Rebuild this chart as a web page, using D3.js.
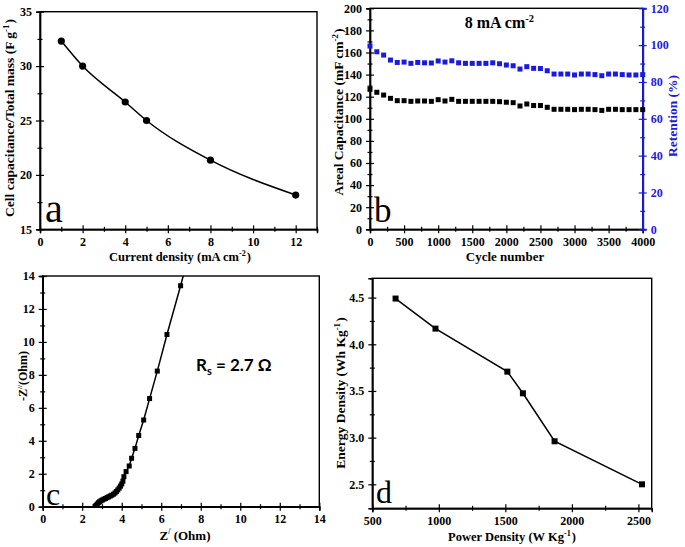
<!DOCTYPE html>
<html><head><meta charset="utf-8">
<script src="https://cdn.jsdelivr.net/npm/d3@7"></script>
<style>
body{margin:0;background:#fff;}
svg{display:block;}
text{font-family:"Liberation Serif","Times New Roman",serif;}
</style></head>
<body>
<svg id="c" width="685" height="547"></svg>
<script>
// ---------- DATA ----------
const aCurrent = [1, 2, 4, 5, 8, 12];
const aCellCap = [32.3, 30.0, 26.7, 25.0, 21.35, 18.15];

const bCycles = [0,100,200,300,400,500,600,700,800,900,1000,1100,1200,1300,1400,1500,1600,1700,1800,1900,2000,
  2100,2200,2300,2400,2500,2600,2700,2800,2900,3000,3100,3200,3300,3400,3500,3600,3700,3800,3900,4000];
const bAreal = [126.7,124,121.5,118.5,116.4,116.4,115.8,116.1,116.1,115.8,117.3,116.1,117.6,115.8,115.8,115.8,115.8,115.8,115.8,115.5,115,
  114.6,111.6,113.4,112,112,110.4,108.6,108.6,108.6,108.3,108.6,108.6,108.3,107.6,108.6,108.6,108.3,108.3,108.3,108.3];
const bRetention = [99.5,96.4,94.6,91.9,90.6,90.8,90.1,90.6,90.4,90.3,91.4,90.8,91.5,90.4,90.1,90.1,90.1,90.1,90.4,89.9,89.2,
  88.8,87.0,88.3,87.4,87.3,86.1,84.3,84.3,84.3,83.8,84.3,84.3,84.0,83.4,84.3,84.3,84.0,83.8,83.8,84.0];

const cZre = [2.65,2.7,2.76,2.82,2.88,2.95,3.02,3.1,3.18,3.26,3.34,3.42,3.5,3.58,3.66,3.73,3.8,3.87,3.94,4.0,4.06,4.11,4.22,4.38,4.5,4.67,4.86,5.11,5.41,5.8,6.29,6.98,7.6];
const cZim = [0.02,0.08,0.16,0.24,0.3,0.36,0.41,0.46,0.5,0.55,0.6,0.65,0.7,0.76,0.83,0.92,1.02,1.13,1.25,1.38,1.55,1.82,2.13,2.47,2.94,3.54,4.32,5.26,6.56,8.23,10.45,13.41,16.2];

const dPower = [675, 975, 1515, 1632, 1870, 2527];
const dEnergy = [4.49, 4.168, 3.707, 3.475, 2.961, 2.5];

// ---------- DRAW ----------
const svg = d3.select("#c");
const BLUE = "#1a1ae6";
const TF = 12; // tick font

function styleAxis(g, color) {
  g.selectAll("path.domain").attr("stroke", color).attr("stroke-width", 1.4);
  g.selectAll(".tick line").attr("stroke", color).attr("stroke-width", 1.2);
  g.selectAll(".tick text").attr("fill", color).style("font-size", TF + "px").style("font-weight", "bold")
    .style("font-family", "'Liberation Serif',serif");
}

function panel(o) {
  const x = d3.scaleLinear().domain(o.xd).range([o.l, o.r]);
  const y = d3.scaleLinear().domain(o.yd).range([o.b, o.t]);
  const g = svg.append("g");
  g.append("rect").attr("x", o.l).attr("y", o.t).attr("width", o.r - o.l).attr("height", o.b - o.t)
    .attr("fill", "none").attr("stroke", "#000").attr("stroke-width", 1.4);
  const gxm = g.append("g").attr("transform", `translate(0,${o.b})`)
    .call(d3.axisBottom(x).tickValues(o.xminor).tickSize(2.5).tickFormat(""));
  gxm.selectAll(".tick line").attr("y1", -2.5);
  styleAxis(gxm, "#000");
  const gx = g.append("g").attr("transform", `translate(0,${o.b})`)
    .call(d3.axisBottom(x).tickValues(o.xticks).tickSize(4).tickPadding(4).tickFormat(d3.format("d")));
  gx.selectAll(".tick line").attr("y1", -4);
  styleAxis(gx, "#000");
  const gym = g.append("g").attr("transform", `translate(${o.l},0)`)
    .call(d3.axisLeft(y).tickValues(o.yminor).tickSize(2.5).tickFormat(""));
  gym.selectAll(".tick line").attr("x1", 2.5);
  styleAxis(gym, "#000");
  const gy = g.append("g").attr("transform", `translate(${o.l},0)`)
    .call(d3.axisLeft(y).tickValues(o.yticks).tickSize(4).tickPadding(4).tickFormat(o.yfmt || d3.format("d")));
  gy.selectAll(".tick line").attr("x1", 4);
  styleAxis(gy, "#000");
  return {x, y, g};
}

function title(g, txt, x, y, rot, size, color, supDy) {
  const t = g.append("text").attr("transform", `translate(${x},${y}) rotate(${rot})`)
    .attr("text-anchor", "middle").style("font-size", size + "px").style("font-weight", "bold")
    .attr("fill", color || "#000");
  txt.forEach((s) => {
    if (s[0]) t.append("tspan").text(s[0]);
    if (s[1]) {
      t.append("tspan").attr("dy", supDy || -5).style("font-size", (size * 0.65) + "px").text(s[1]);
      t.append("tspan").attr("dy", -(supDy || -5)).text("\u200A");
    }
  });
  return t;
}

function bigLabel(txt, x, y, size) {
  svg.append("text").attr("x", x).attr("y", y).style("font-size", size + "px").text(txt);
}

// ---- Panel a ----
{
  const p = panel({l: 40, r: 317, t: 11.7, b: 229.3, xd: [0, 13], yd: [15, 35],
    xticks: [0,2,4,6,8,10,12], xminor: [1,3,5,7,9,11,13], yticks: [15,20,25,30,35], yminor: [17.5,22.5,27.5,32.5]});
  const pts = aCurrent.map((v, i) => [v, aCellCap[i]]);
  p.g.append("path").datum(pts).attr("fill", "none").attr("stroke", "#000").attr("stroke-width", 1.5)
    .attr("d", d3.line().x(d => p.x(d[0])).y(d => p.y(d[1])).curve(d3.curveMonotoneX));
  p.g.selectAll("circle.a").data(pts).join("circle").attr("cx", d => p.x(d[0])).attr("cy", d => p.y(d[1]))
    .attr("r", 3.6).attr("fill", "#000");
  title(p.g, [["Current density (mA cm"], ["", "-2"], [")"]], 180, 260.5, 0, 12.5);
  title(p.g, [["Cell capacitance/Total mass (F g"], ["", "-1"], [")"]], 14, 118, -90, 13.5);
  bigLabel("a", 45, 222, 40);
}

// ---- Panel b ----
{
  const o = {l: 370, r: 642.7, t: 8.3, b: 229.3, xd: [0, 4000], yd: [0, 200],
    xticks: [0,500,1000,1500,2000,2500,3000,3500,4000], xminor: [250,750,1250,1750,2250,2750,3250,3750],
    yticks: [0,20,40,60,80,100,120,140,160,180,200], yminor: [10,30,50,70,90,110,130,150,170,190]};
  const p = panel(o);
  const y2 = d3.scaleLinear().domain([0, 120]).range([o.b, o.t]);
  const gr = p.g.append("g").attr("transform", `translate(${o.r},0)`)
    .call(d3.axisRight(y2).tickValues([10,30,50,70,90,110]).tickSize(2.5).tickFormat(""));
  gr.selectAll(".tick line").attr("x1", -2.5);
  styleAxis(gr, BLUE);
  const gr2 = p.g.append("g").attr("transform", `translate(${o.r},0)`)
    .call(d3.axisRight(y2).tickValues([0,20,40,60,80,100,120]).tickSize(4).tickPadding(4));
  gr2.selectAll(".tick line").attr("x1", -4);
  styleAxis(gr2, BLUE);
  gr2.selectAll("path.domain").attr("stroke-width", 2);
  const s = 5;
  p.g.selectAll("rect.bk").data(bCycles).join("rect").attr("x", (d) => p.x(d) - s / 2)
    .attr("y", (d, i) => p.y(bAreal[i]) - s / 2).attr("width", s).attr("height", s).attr("fill", "#000");
  p.g.selectAll("rect.bl").data(bCycles).join("rect").attr("x", (d) => p.x(d) - s / 2)
    .attr("y", (d, i) => y2(bRetention[i]) - s / 2).attr("width", s).attr("height", s).attr("fill", BLUE);
  title(p.g, [["Cycle number"]], 505, 261, 0, 13);
  title(p.g, [["Areal Capacitance (mF cm"], ["", "-2"], [")"]], 343, 112, -90, 13.5);
  title(p.g, [["Retention (%)"]], 677, 116, -90, 13.5, BLUE);
  title(p.g, [["8 mA cm"], ["", "-2"]], 500, 28, 0, 16, "#000", -6);
  bigLabel("b", 374, 222, 35);
}

// ---- Panel c ----
{
  const p = panel({l: 42.7, r: 319.3, t: 276, b: 506.7, xd: [0, 14], yd: [0, 14],
    xticks: [0,2,4,6,8,10,12,14], xminor: [1,3,5,7,9,11,13], yticks: [0,2,4,6,8,10,12,14], yminor: [1,3,5,7,9,11,13]});
  svg.append("clipPath").attr("id", "clipc").append("rect").attr("x", 42.7).attr("y", 276)
    .attr("width", 319.3 - 42.7).attr("height", 506.7 - 276);
  const pts = cZre.map((v, i) => [v, cZim[i]]);
  const gc = p.g.append("g").attr("clip-path", "url(#clipc)");
  gc.append("path").datum(pts).attr("fill", "none").attr("stroke", "#000").attr("stroke-width", 1.5)
    .attr("d", d3.line().x(d => p.x(d[0])).y(d => p.y(d[1])));
  const s = 5;
  gc.selectAll("rect.c").data(pts).join("rect").attr("x", d => p.x(d[0]) - s / 2).attr("y", d => p.y(d[1]) - s / 2)
    .attr("width", s).attr("height", s).attr("fill", "#000");
  const tx = p.g.append("text").attr("x", 185).attr("y", 540).attr("text-anchor", "middle")
    .style("font-size", "13px").style("font-weight", "bold");
  tx.append("tspan").text("Z");
  tx.append("tspan").attr("dy", -6).style("font-size", "8px").text("/");
  tx.append("tspan").attr("dy", 6).text(" (Ohm)");
  const ty = p.g.append("text").attr("transform", "translate(27,376) rotate(-90)").attr("text-anchor", "middle")
    .style("font-size", "12px").style("font-weight", "bold");
  ty.append("tspan").text("-Z");
  ty.append("tspan").attr("dy", -5).style("font-size", "7px").text("//");
  ty.append("tspan").attr("dy", 5).text("(Ohm)");
  const rs = p.g.append("text").attr("x", 196).attr("y", 371)
    .style("font-family", "Lato, 'Open Sans', sans-serif").style("font-size", "17px").style("font-weight", "bold");
  rs.append("tspan").text("R");
  rs.append("tspan").attr("dy", 4).style("font-size", "11px").text("s");
  rs.append("tspan").attr("dy", -4).text(" = 2.7 \u03A9");
  bigLabel("c", 46, 505, 32);
}

// ---- Panel d ----
{
  const p = panel({l: 372.3, r: 651.7, t: 278.3, b: 508.3, xd: [500, 2600], yd: [2.243, 4.707],
    xticks: [500,1000,1500,2000,2500], xminor: [750,1250,1750,2250],
    yticks: [2.5,3.0,3.5,4.0,4.5], yminor: [2.75,3.25,3.75,4.25], yfmt: d3.format(".1f")});
  const pts = dPower.map((v, i) => [v, dEnergy[i]]);
  p.g.append("path").datum(pts).attr("fill", "none").attr("stroke", "#000").attr("stroke-width", 1.5)
    .attr("d", d3.line().x(d => p.x(d[0])).y(d => p.y(d[1])));
  const s = 6;
  p.g.selectAll("rect.d").data(pts).join("rect").attr("x", d => p.x(d[0]) - s / 2).attr("y", d => p.y(d[1]) - s / 2)
    .attr("width", s).attr("height", s).attr("fill", "#000");
  title(p.g, [["Power Density (W Kg"], ["", "-1"], [")"]], 512, 540.5, 0, 12.5);
  title(p.g, [["Energy Density (Wh Kg"], ["", "-1"], [")"]], 345, 393, -90, 13.5);
  bigLabel("d", 376, 503, 32);
}
</script>
</body></html>
